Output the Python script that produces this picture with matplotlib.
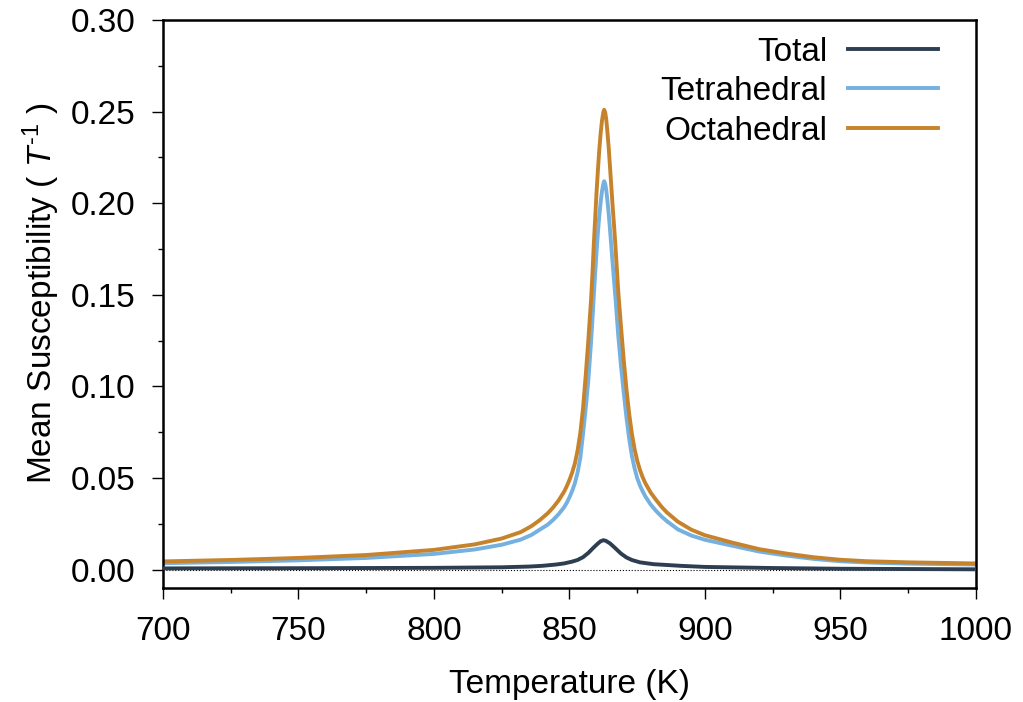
import matplotlib
matplotlib.use('Agg')
import matplotlib.pyplot as plt
from matplotlib.ticker import MultipleLocator, FormatStrFormatter

plt.rcParams['font.family'] = ['Liberation Sans', 'DejaVu Sans']
plt.rcParams['mathtext.fontset'] = 'custom'
plt.rcParams['mathtext.rm'] = 'Liberation Sans'
plt.rcParams['mathtext.it'] = 'Liberation Sans:italic'

# temperature (K) and mean susceptibility (1/T) for each sublattice
temp = [700, 725, 750, 775, 800, 815, 825, 832, 836, 839,
        842, 844, 846, 848, 849, 850, 851, 852, 853, 854,
        855, 856, 857, 858, 858.5, 859, 859.5, 860, 860.5, 861,
        861.5, 862, 862.5, 862.8, 863.2, 863.6, 864, 864.5, 865, 865.5,
        866, 866.5, 867, 867.5, 868, 869, 870, 871, 872, 873,
        874, 875, 876, 877, 878, 880, 882, 884, 886, 890,
        895, 900, 910, 920, 930, 940, 950, 960, 975, 1000]
octa = [0.0045, 0.0053, 0.0064, 0.0080, 0.0108, 0.0138, 0.0170, 0.0205, 0.0238, 0.0270,
        0.0308, 0.0340, 0.0378, 0.0425, 0.0455, 0.0490, 0.0530, 0.0580, 0.0650, 0.0745,
        0.0880, 0.1060, 0.1260, 0.1480, 0.1620, 0.1780, 0.1920, 0.2060, 0.2180, 0.2290,
        0.2380, 0.2450, 0.2497, 0.2510, 0.2495, 0.2455, 0.2390, 0.2300, 0.2190, 0.2080,
        0.1970, 0.1870, 0.1760, 0.1640, 0.1520, 0.1330, 0.1150, 0.0990, 0.0855, 0.0745,
        0.0660, 0.0595, 0.0545, 0.0505, 0.0472, 0.0420, 0.0380, 0.0343, 0.0312, 0.0262,
        0.0218, 0.0188, 0.0148, 0.0112, 0.0088, 0.0068, 0.0054, 0.0046, 0.0040, 0.0034]
tetra = [0.0035, 0.0042, 0.0051, 0.0064, 0.0086, 0.0110, 0.0136, 0.0164, 0.0190, 0.0218,
         0.0246, 0.0272, 0.0303, 0.0340, 0.0365, 0.0395, 0.0430, 0.0472, 0.0530, 0.0610,
         0.0740, 0.0880, 0.1040, 0.1250, 0.1370, 0.1500, 0.1620, 0.1735, 0.1840, 0.1930,
         0.2005, 0.2065, 0.2105, 0.2120, 0.2105, 0.2070, 0.2015, 0.1940, 0.1850, 0.1755,
         0.1660, 0.1570, 0.1480, 0.1380, 0.1280, 0.1115, 0.0970, 0.0835, 0.0720, 0.0625,
         0.0555, 0.0500, 0.0460, 0.0428, 0.0400, 0.0355, 0.0320, 0.0290, 0.0264, 0.0220,
         0.0186, 0.0163, 0.0131, 0.0099, 0.0077, 0.0059, 0.0046, 0.0039, 0.0033, 0.0028]

temp_tot = [700, 750, 800, 825, 835, 840, 845, 848, 851, 853,
            855, 857, 859, 860.5, 861.5, 862.5, 863.5, 865, 867, 869,
            871, 873, 876, 881, 891, 900, 925, 950, 1000]
total = [0.0007, 0.0008, 0.0010, 0.0013, 0.0017, 0.0021, 0.0028, 0.0034, 0.0044, 0.0053,
         0.0068, 0.0092, 0.0122, 0.0143, 0.0155, 0.0161, 0.0157, 0.0143, 0.0116, 0.0088,
         0.0067, 0.0053, 0.0040, 0.0030, 0.0021, 0.0015, 0.0009, 0.0005, 0.0002]

fig = plt.figure(figsize=(10.23, 7.02), dpi=100)
ax = fig.add_axes([0.1593, 0.1624, 0.7947, 0.8091])

ax.axhline(0, color='black', lw=0.8, ls=':', zorder=1)
ax.plot(temp_tot, total, color='#2c3e50', lw=2.8, label='Total', zorder=3)
ax.plot(temp, tetra, color='#74b0e0', lw=2.8, label='Tetrahedral', zorder=2)
ax.plot(temp, octa, color='#c6832c', lw=2.8, label='Octahedral', zorder=2)

ax.set_xlim(700, 1000)
ax.set_ylim(-0.01, 0.30)
ax.xaxis.set_major_locator(MultipleLocator(50))
ax.xaxis.set_minor_locator(MultipleLocator(25))
ax.yaxis.set_major_locator(MultipleLocator(0.05))
ax.yaxis.set_minor_locator(MultipleLocator(0.025))
ax.yaxis.set_major_formatter(FormatStrFormatter('%.2f'))

for s in ax.spines.values():
    s.set_linewidth(1.8)
ax.tick_params(which='both', direction='out', top=False, right=False, width=1.0,
               labelsize=24)
ax.tick_params(which='major', length=8, pad=12)
ax.tick_params(which='minor', length=3.6)

ax.set_xlabel('Temperature (K)', fontsize=24, labelpad=16)
ax.set_ylabel('Mean Susceptibility ( $\\mathit{T}^{\\text{-1}}$ )', fontsize=24, labelpad=6)
ax.yaxis.label.set_y(0.52)

ax.legend(loc='upper right', bbox_to_anchor=(0.978, 1.006), frameon=False,
          markerfirst=False, fontsize=24, handlelength=2.7, handletextpad=0.63,
          labelspacing=0.255, borderpad=0.1)

plt.savefig('out.png', dpi=100)
